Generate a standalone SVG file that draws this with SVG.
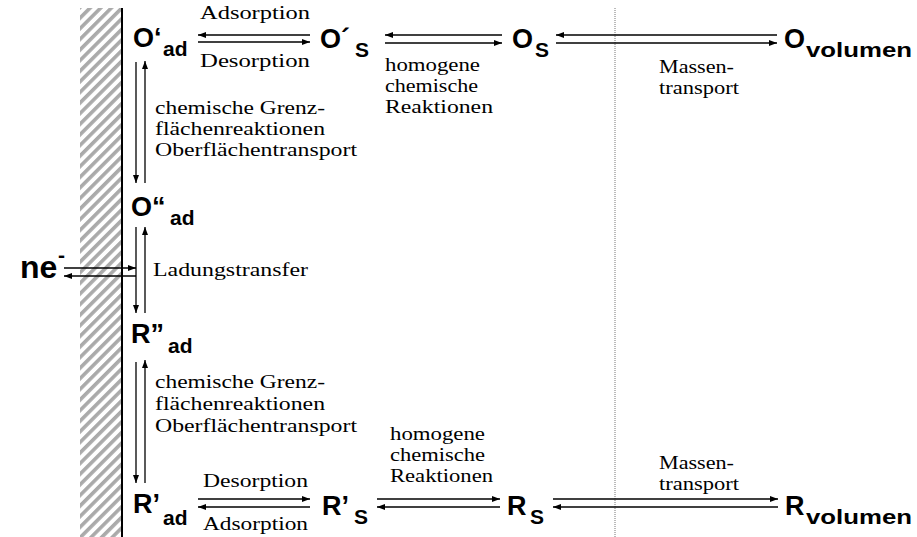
<svg xmlns="http://www.w3.org/2000/svg" width="917" height="537" viewBox="0 0 917 537">
<defs>
<pattern id="hatch" patternUnits="userSpaceOnUse" width="7.5" height="7.5" patternTransform="rotate(45)">
<rect x="0" y="0" width="7.5" height="7.5" fill="#fff"/>
<rect x="0" y="0" width="3.6" height="7.5" fill="#aaaaaa"/>
</pattern>
<marker id="ah" markerUnits="userSpaceOnUse" markerWidth="9" markerHeight="7" refX="8" refY="3" orient="auto">
<path d="M0,0 L8,3 L0,6 z" fill="#000"/>
</marker>
<style>
.n{font-family:"Liberation Sans",Arial,sans-serif;font-weight:bold;font-size:27px;fill:#000}
.s{font-family:"Liberation Sans",Arial,sans-serif;font-weight:bold;font-size:21px;fill:#000}
.t{font-family:"Liberation Serif","Times New Roman",serif;font-size:19.5px;fill:#000}
.c line{stroke:#000;stroke-width:1.3;marker-end:url(#ah)}
</style>
</defs>
<rect width="917" height="537" fill="#fff"/>
<g id="wall">
<rect x="80" y="8" width="41" height="529" fill="url(#hatch)"/>
<line x1="122" y1="8" x2="122" y2="537" stroke="#000" stroke-width="2"/>
</g>
<line id="boundary" x1="615" y1="8" x2="615" y2="537" stroke="#777" stroke-width="1" stroke-dasharray="1,1"/>
<g id="connectors" class="c">
<line x1="310" y1="35" x2="198" y2="35"/>
<line x1="198" y1="42" x2="310" y2="42"/>
<line x1="502" y1="35" x2="385" y2="35"/>
<line x1="385" y1="43" x2="502" y2="43"/>
<line x1="777" y1="35" x2="556" y2="35"/>
<line x1="556" y1="43" x2="777" y2="43"/>
<line x1="136" y1="62" x2="136" y2="183"/>
<line x1="145" y1="183" x2="145" y2="61"/>
<line x1="136" y1="227" x2="136" y2="313"/>
<line x1="145" y1="313" x2="145" y2="227"/>
<line x1="64" y1="268" x2="136" y2="268"/>
<line x1="136" y1="276" x2="64" y2="276"/>
<line x1="136" y1="362" x2="136" y2="483"/>
<line x1="145" y1="483" x2="145" y2="360"/>
<line x1="198" y1="499" x2="310" y2="499"/>
<line x1="310" y1="507" x2="198" y2="507"/>
<line x1="377" y1="499" x2="500" y2="499"/>
<line x1="500" y1="507" x2="377" y2="507"/>
<line x1="553" y1="499" x2="778" y2="499"/>
<line x1="778" y1="507" x2="553" y2="507"/>
</g>
<g id="O_ad1"><text class="n" x="133" y="47">O‘</text><text class="s" x="163" y="56">ad</text></g>
<g id="O_s1"><text class="n" x="320" y="48">O´</text><text class="s" x="355" y="57">S</text></g>
<g id="O_s"><text class="n" x="512" y="48">O</text><text class="s" x="535" y="57">S</text></g>
<g id="O_vol"><text class="n" x="784" y="48">O</text><text class="s" x="806" y="57" textLength="106" lengthAdjust="spacingAndGlyphs">volumen</text></g>
<g id="O_ad2"><text class="n" x="131" y="216">O“</text><text class="s" x="170" y="225">ad</text></g>
<g id="ne"><text class="n" x="20" y="278" style="font-size:32px">ne</text><text class="s" x="58" y="262">-</text></g>
<g id="R_ad2"><text class="n" x="131" y="343">R”</text><text class="s" x="168" y="353">ad</text></g>
<g id="R_ad1"><text class="n" x="133" y="513">R’</text><text class="s" x="163" y="525">ad</text></g>
<g id="R_s1"><text class="n" x="322" y="515">R’</text><text class="s" x="354" y="524">S</text></g>
<g id="R_s"><text class="n" x="507" y="515">R</text><text class="s" x="530" y="524">S</text></g>
<g id="R_vol"><text class="n" x="785" y="515">R</text><text class="s" x="806" y="524" textLength="106" lengthAdjust="spacingAndGlyphs">volumen</text></g>
<g id="labels" class="t">
<text x="200" y="19" textLength="110" lengthAdjust="spacingAndGlyphs">Adsorption</text>
<text x="200" y="67" textLength="110" lengthAdjust="spacingAndGlyphs">Desorption</text>
<text x="385" y="71" textLength="95" lengthAdjust="spacingAndGlyphs">homogene</text>
<text x="385" y="92" textLength="93" lengthAdjust="spacingAndGlyphs">chemische</text>
<text x="385" y="113" textLength="108" lengthAdjust="spacingAndGlyphs">Reaktionen</text>
<text x="659" y="73" textLength="75" lengthAdjust="spacingAndGlyphs">Massen-</text>
<text x="659" y="94" textLength="80" lengthAdjust="spacingAndGlyphs">transport</text>
<text x="155" y="114" textLength="170" lengthAdjust="spacingAndGlyphs">chemische Grenz-</text>
<text x="155" y="135" textLength="170" lengthAdjust="spacingAndGlyphs">flächenreaktionen</text>
<text x="155" y="156" textLength="202" lengthAdjust="spacingAndGlyphs">Oberflächentransport</text>
<text x="153" y="276" textLength="155" lengthAdjust="spacingAndGlyphs">Ladungstransfer</text>
<text x="155" y="388" textLength="170" lengthAdjust="spacingAndGlyphs">chemische Grenz-</text>
<text x="155" y="410" textLength="170" lengthAdjust="spacingAndGlyphs">flächenreaktionen</text>
<text x="155" y="432" textLength="202" lengthAdjust="spacingAndGlyphs">Oberflächentransport</text>
<text x="203" y="487" textLength="105" lengthAdjust="spacingAndGlyphs">Desorption</text>
<text x="203" y="530" textLength="105" lengthAdjust="spacingAndGlyphs">Adsorption</text>
<text x="390" y="440" textLength="95" lengthAdjust="spacingAndGlyphs">homogene</text>
<text x="390" y="461" textLength="95" lengthAdjust="spacingAndGlyphs">chemische</text>
<text x="390" y="482" textLength="103" lengthAdjust="spacingAndGlyphs">Reaktionen</text>
<text x="659" y="469" textLength="75" lengthAdjust="spacingAndGlyphs">Massen-</text>
<text x="659" y="490" textLength="80" lengthAdjust="spacingAndGlyphs">transport</text>
</g>
</svg>
